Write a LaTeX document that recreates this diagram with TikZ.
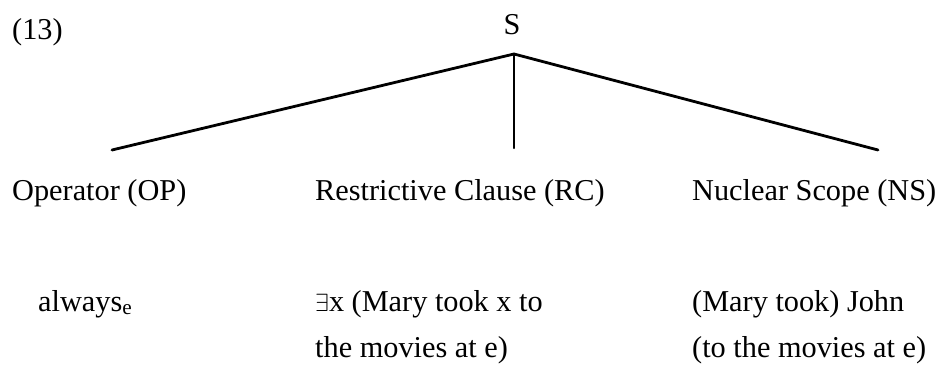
\documentclass[tikz,border=0pt]{standalone}
\usepackage{fontspec}
\setmainfont{Liberation Serif}
\begin{document}
\begin{tikzpicture}[x=1pt,y=-1pt,
  txt/.style={inner sep=0pt,anchor=base west,font=\fontsize{30.3}{34}\selectfont},
  branch/.style={line width=2.8pt,line cap=round,line join=round}]
\useasboundingbox (0,0) rectangle (941,371);
\node[txt] (num) at (12,40) {(13)};
\node[txt,anchor=base] (S) at (512,35) {S};
\coordinate (apex) at (514,54);
\coordinate (lend) at (112,150);
\coordinate (mend) at (514,148);
\coordinate (rend) at (878,150);
\draw[branch] (lend) -- (apex) -- (rend);
\draw[branch,line width=2.2pt] (apex) -- (mend);
\node[txt] (op) at (12,201) {Operator (OP)};
\node[txt] (rc) at (315,201) {Restrictive Clause (RC)};
\node[txt] (ns) at (692,201) {Nuclear Scope (NS)};
\node[txt] (opv) at (38,311) {always\textsubscript{e}};
\node[txt] (rc1) at (315,311) {$\exists$x (Mary took x to};
\node[txt] (rc2) at (315,357) {the movies at e)};
\node[txt] (ns1) at (692,311) {(Mary took) John};
\node[txt] (ns2) at (692,357) {(to the movies at e)};
\end{tikzpicture}
\end{document}
